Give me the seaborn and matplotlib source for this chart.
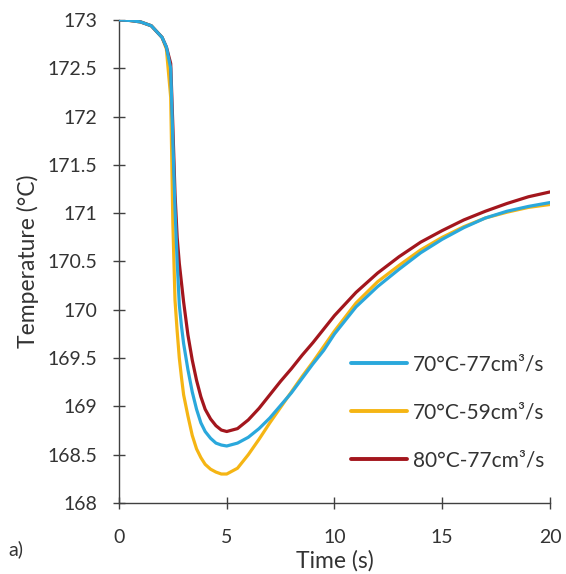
import matplotlib
matplotlib.use("Agg")
import matplotlib.pyplot as plt
import matplotlib.ticker as mticker
import seaborn as sns
import pandas as pd

# Time axis (s) shared by all three runs
time_s = [0, 0.5, 1, 1.5, 2, 2.2, 2.4, 2.5, 2.6, 2.7, 2.8, 2.9,
          3.0, 3.2, 3.4, 3.6, 3.8, 4.0, 4.25, 4.5, 4.75, 5.0, 5.5, 6,
          6.5, 7, 7.5, 8, 8.5, 9, 9.5, 10, 11, 12, 13, 14, 15, 16,
          17, 18, 19, 20]

# Temperature (°C) for each cooling condition
temp_70c_77 = [173.00, 172.995, 172.98, 172.94, 172.82, 172.72, 172.50, 171.75,
               171.05, 170.50, 170.05, 169.83, 169.65, 169.38, 169.15, 168.97,
               168.83, 168.74, 168.67, 168.62, 168.60, 168.59, 168.62, 168.68,
               168.77, 168.88, 169.01, 169.14, 169.29, 169.44, 169.58, 169.75,
               170.03, 170.24, 170.42, 170.59, 170.73, 170.85, 170.95, 171.02,
               171.07, 171.11]
temp_70c_59 = [173.00, 172.995, 172.98, 172.94, 172.82, 172.70, 172.20, 170.90,
               170.10, 169.78, 169.50, 169.30, 169.12, 168.90, 168.70, 168.56,
               168.47, 168.40, 168.35, 168.32, 168.30, 168.30, 168.36, 168.50,
               168.66, 168.83, 168.99, 169.15, 169.31, 169.46, 169.62, 169.78,
               170.07, 170.29, 170.46, 170.62, 170.75, 170.86, 170.95, 171.01,
               171.06, 171.09]
temp_80c_77 = [173.00, 172.995, 172.98, 172.94, 172.82, 172.72, 172.55, 171.90,
               171.20, 170.75, 170.48, 170.28, 170.08, 169.74, 169.48, 169.27,
               169.10, 168.97, 168.87, 168.80, 168.755, 168.74, 168.77, 168.86,
               168.98, 169.12, 169.26, 169.39, 169.53, 169.66, 169.80, 169.94,
               170.18, 170.38, 170.55, 170.70, 170.82, 170.93, 171.02, 171.10,
               171.17, 171.22]

labels = ["70°C-77cm³/s", "70°C-59cm³/s", "80°C-77cm³/s"]
colors = ["#2AA8DC", "#F5B514", "#A3161D"]
y_ticks = [168, 168.5, 169, 169.5, 170, 170.5, 171, 171.5, 172, 172.5, 173]
x_ticks = [0, 5, 10, 15, 20]

frames = []
for lab, vals in zip(labels, [temp_70c_77, temp_70c_59, temp_80c_77]):
    frames.append(pd.DataFrame({"Time (s)": time_s, "Temperature (°C)": vals, "run": lab}))
df = pd.concat(frames, ignore_index=True)

sns.set_theme(style="white")
plt.rcParams["font.family"] = ["Lato", "DejaVu Sans"]
text_color = "#333333"
fs = 14
fs_label = 16.5
fs_legend = 15

fig = plt.figure(figsize=(5.66, 5.74), dpi=100)
ax = fig.add_axes([0.2102, 0.1237, 0.7615, 0.8415])

sns.lineplot(data=df, x="Time (s)", y="Temperature (°C)", hue="run",
             hue_order=labels, palette=dict(zip(labels, colors)),
             estimator=None, sort=False, linewidth=2.3, ax=ax)

# draw order: yellow underneath, then red, blue on top
for line, z in zip(ax.lines[:3], [4, 2, 3]):
    line.set_zorder(z)

ax.set_xlim(0, 20)
ax.set_ylim(168, 173)
ax.set_xticks(x_ticks)
ax.set_yticks(y_ticks)
ax.yaxis.set_major_formatter(mticker.FuncFormatter(lambda v, p: f"{v:g}"))

for side in ["top", "right"]:
    ax.spines[side].set_visible(False)
for side in ["left", "bottom"]:
    ax.spines[side].set_color("#404040")
    ax.spines[side].set_linewidth(1.0)

ax.tick_params(axis="both", which="major", direction="inout", length=8,
               width=1.0, color="#404040", labelsize=fs, labelcolor=text_color,
               bottom=True, left=True)
ax.tick_params(axis="y", pad=11.5)
ax.tick_params(axis="x", pad=15)

ax.set_xlabel("Time (s)", fontsize=fs_label, color=text_color, labelpad=2.5)
ax.set_ylabel("Temperature (°C)", fontsize=fs_label, color=text_color, labelpad=6)

leg = ax.legend(loc="upper left", bbox_to_anchor=(0.52, 0.325), frameon=False,
                fontsize=fs_legend, handlelength=2.65, handletextpad=0.3,
                labelspacing=1.35, borderaxespad=0)
for t in leg.get_texts():
    t.set_color(text_color)
for h in leg.get_lines():
    h.set_linewidth(2.8)

fig.text(8 / 566, 1 - 549 / 574, "a)", fontsize=fs, color=text_color,
         ha="left", va="center")

fig.savefig("out.png", dpi=100)
